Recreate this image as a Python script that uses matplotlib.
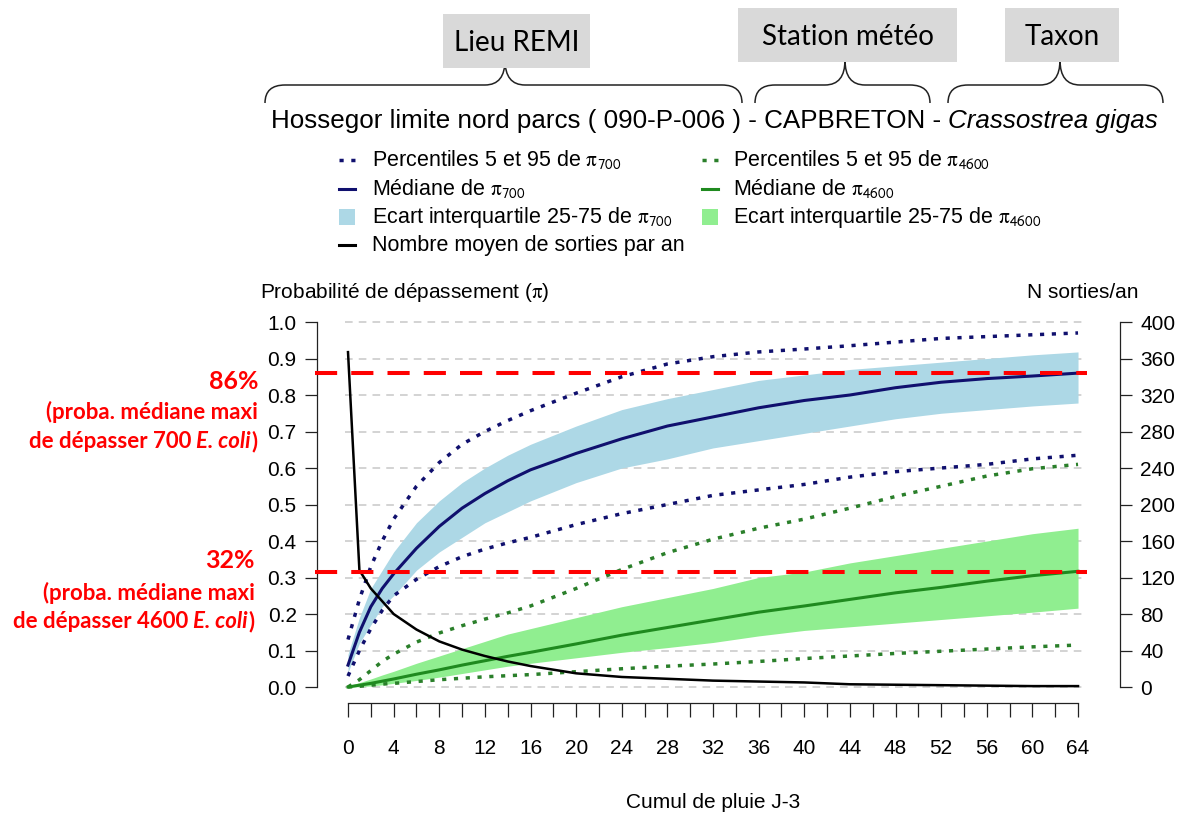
import numpy as np
import matplotlib.pyplot as plt
from matplotlib.path import Path
from matplotlib.patches import PathPatch, Rectangle

# cumul de pluie J-3
pluie = [0, 1, 2, 3, 4, 6, 8, 10, 12, 14, 16, 20, 24, 28, 32, 36, 40, 44, 48, 52, 56, 60, 64]

# probabilite de depasser 700 E. coli
p700_q05 = [0.03, 0.10, 0.16, 0.21, 0.25, 0.295, 0.33, 0.357, 0.378, 0.395, 0.41, 0.445, 0.475,
            0.50, 0.525, 0.54, 0.555, 0.575, 0.59, 0.60, 0.61, 0.625, 0.635]
p700_q25 = [0.04, 0.12, 0.17, 0.22, 0.25, 0.32, 0.37, 0.41, 0.45, 0.48, 0.51, 0.56, 0.60,
            0.625, 0.655, 0.675, 0.695, 0.715, 0.735, 0.75, 0.76, 0.77, 0.778]
p700_med = [0.06, 0.15, 0.22, 0.27, 0.31, 0.38, 0.44, 0.49, 0.53, 0.565, 0.595, 0.64, 0.68,
            0.715, 0.74, 0.765, 0.785, 0.80, 0.82, 0.835, 0.845, 0.852, 0.86]
p700_q75 = [0.09, 0.19, 0.27, 0.32, 0.37, 0.45, 0.51, 0.56, 0.60, 0.635, 0.665, 0.715, 0.76,
            0.79, 0.815, 0.84, 0.855, 0.87, 0.88, 0.89, 0.90, 0.91, 0.918]
p700_q95 = [0.13, 0.24, 0.33, 0.40, 0.46, 0.55, 0.615, 0.665, 0.70, 0.73, 0.757, 0.805, 0.85,
            0.885, 0.905, 0.918, 0.926, 0.935, 0.945, 0.955, 0.96, 0.965, 0.97]

# probabilite de depasser 4600 E. coli
p4600_q05 = [0.0, 0.002, 0.005, 0.008, 0.01, 0.015, 0.02, 0.024, 0.028, 0.031, 0.034, 0.042, 0.05,
             0.057, 0.063, 0.07, 0.078, 0.085, 0.092, 0.098, 0.104, 0.11, 0.115]
p4600_q25 = [0.0, 0.001, 0.003, 0.006, 0.01, 0.018, 0.027, 0.037, 0.047, 0.057, 0.065, 0.08, 0.095,
             0.108, 0.122, 0.14, 0.155, 0.165, 0.175, 0.185, 0.195, 0.205, 0.216]
p4600_med = [0.0, 0.005, 0.01, 0.016, 0.022, 0.035, 0.047, 0.06, 0.072, 0.084, 0.095, 0.118, 0.142,
             0.163, 0.184, 0.205, 0.222, 0.24, 0.258, 0.273, 0.29, 0.305, 0.317]
p4600_q75 = [0.003, 0.012, 0.022, 0.033, 0.043, 0.065, 0.085, 0.105, 0.125, 0.145, 0.16, 0.19, 0.22,
             0.245, 0.27, 0.30, 0.315, 0.34, 0.36, 0.38, 0.40, 0.42, 0.435]
p4600_q95 = [0.0, 0.02, 0.045, 0.07, 0.09, 0.123, 0.148, 0.168, 0.186, 0.203, 0.222, 0.27, 0.322,
             0.368, 0.405, 0.435, 0.46, 0.49, 0.522, 0.55, 0.578, 0.598, 0.61]

# nombre moyen de sorties par an
sorties = [367, 128, 108, 94, 80, 63, 50, 41, 34, 28, 23, 15, 11, 9, 7, 6, 5, 3, 2.5, 2, 1.5, 1, 1]

# seuils (mediane maxi)
seuil_700 = 0.86
seuil_4600 = 0.315

plt.rcParams['font.family'] = ['Liberation Sans', 'DejaVu Sans']
plt.rcParams['mathtext.fontset'] = 'stix'

fig = plt.figure(figsize=(11.8, 8.23), dpi=100)

# fond en pixels pour les textes autour du graphique
bg = fig.add_axes([0, 0, 1, 1])
bg.set_xlim(0, 1180)
bg.set_ylim(823, 0)
bg.axis('off')

ax = fig.add_axes([317 / 1180, 1 - 703 / 823, (1120 - 317) / 1180, (703 - 315) / 823])
ax.set_xlim(-2.718, 67.68)
ax.set_ylim(-0.0438, 1.0192)

navy = '#10106e'
vert = '#1f8a1f'
vert_f = '#2a7f2a'

# grille
yt = np.arange(0, 1.01, 0.1)
ax.hlines(yt, -0.3, 64.8, colors='#c8c8c8', linestyles=(0, (5, 4)), lw=1.1, zorder=0.5)

ax.fill_between(pluie, p700_q25, p700_q75, color='#add8e6', lw=0, zorder=1)
ax.fill_between(pluie, p4600_q25, p4600_q75, color='#90ee90', lw=0, zorder=1)

dots = (0, (1.2, 2.2))
ax.plot(pluie, p700_q05, color=navy, lw=2.5, ls=dots, zorder=2)
ax.plot(pluie, p700_q95, color=navy, lw=2.5, ls=dots, zorder=2)
ax.plot(pluie, p4600_q05, color=vert_f, lw=2.5, ls=dots, zorder=2)
ax.plot(pluie, p4600_q95, color=vert_f, lw=2.5, ls=dots, zorder=2)
ax.plot(pluie, p700_med, color=navy, lw=2.2, zorder=3)
ax.plot(pluie, p4600_med, color=vert, lw=2.2, zorder=3)

for s in ['top', 'right']:
    ax.spines[s].set_visible(False)
ax.spines['left'].set_bounds(0, 1)
ax.spines['bottom'].set_bounds(0, 64)
for s in ['left', 'bottom']:
    ax.spines[s].set_linewidth(0.9)
    ax.spines[s].set_color('#222222')

xt = np.arange(0, 65, 2)
ax.set_xticks(xt)
ax.set_xticklabels([str(v) if v % 4 == 0 else '' for v in xt])
ax.set_yticks(yt)
ax.set_yticklabels(['%.1f' % v for v in yt])
ax.tick_params(axis='x', length=10, width=0.9, pad=16, labelsize=15, color='#222222')
ax.tick_params(axis='y', length=8.6, width=0.9, pad=6, labelsize=15, color='#222222')

# axe de droite : nombre de sorties
ax2 = ax.twinx()
ax2.set_ylim(-0.0438 * 400, 1.0192 * 400)
for s in ['top', 'left', 'bottom']:
    ax2.spines[s].set_visible(False)
ax2.spines['right'].set_bounds(0, 400)
ax2.spines['right'].set_linewidth(0.9)
ax2.spines['right'].set_color('#222222')
ax2.set_yticks(np.arange(0, 401, 40))
ax2.tick_params(axis='y', length=8.6, width=0.9, pad=6, labelsize=15, color='#222222')
ax2.plot(pluie, sorties, color='black', lw=1.8, zorder=4)

# seuils en rouge
for v in [seuil_700, seuil_4600]:
    ax2.plot([-2.9, 64.8], [v, v], transform=ax.transData, color='#ff0000', lw=2.9,
             ls=(0, (5.5, 3.5)), clip_on=False, zorder=5)

# titres d'axes
bg.text(260, 293, 'Probabilité de dépassement ($\\mathrm{\\pi}$)', fontsize=15, ha='left', va='center')
bg.text(1083, 293, 'N sorties/an', fontsize=15, ha='center', va='center')
bg.text(713, 803, 'Cumul de pluie J-3', fontsize=15, ha='center', va='center')

renderer = fig.canvas.get_renderer()


def ligne(pieces, x, y, ha='left'):
    ts = []
    for txt, props, gap in pieces:
        ts.append((bg.text(0, y, txt, ha='left', va='baseline', **props), gap))
    ws = [t.get_window_extent(renderer).width + g for t, g in ts]
    x0 = x - sum(ws) if ha == 'right' else x
    for (t, g), w in zip(ts, ws):
        t.set_x(x0)
        x0 += w


# titre
ligne([('Hossegor limite nord parcs ( 090-P-006 ) - CAPBRETON -', dict(fontsize=18.7), 7),
       ('Crassostrea gigas', dict(fontsize=18.7, style='italic'), 0)], 271, 128)


def accolade(x0, x1, xm, y_end=103, y_arm=85, y_tip=60, r=20):
    verts = [(x0, y_end), (x0, y_arm), (x0 + r, y_arm), (xm - r, y_arm), (xm, y_arm), (xm, y_tip),
             (xm, y_arm), (xm + r, y_arm), (x1 - r, y_arm), (x1, y_arm), (x1, y_end)]
    codes = [Path.MOVETO, Path.CURVE3, Path.CURVE3, Path.LINETO, Path.CURVE3, Path.CURVE3,
             Path.CURVE3, Path.CURVE3, Path.LINETO, Path.CURVE3, Path.CURVE3]
    bg.add_patch(PathPatch(Path(verts, codes), fill=False, lw=1.1, ec='#222222'))


accolade(265, 742, 505)
accolade(755, 930, 845)
accolade(948, 1163, 1060)

boites = [('Lieu REMI', 443, 14, 147, 54), ('Station météo', 738, 8, 219, 54), ('Taxon', 1005, 8, 114, 54)]
for txt, bx, by, bw, bh in boites:
    bg.add_patch(Rectangle((bx, by), bw, bh, color='#d9d9d9', lw=0))
    bg.text(bx + bw / 2, by + bh / 2 + 2, txt, fontsize=20, family='Lato', ha='center', va='center')

# legende
pi7 = '$\\mathrm{\\pi}_{\\mathsf{700}}$'
pi46 = '$\\mathrm{\\pi}_{\\mathsf{4600}}$'
leg_y = [160, 189, 217, 245]
col_x = [(339, 355, 372), (702, 718, 733)]
leg = [
    [('dots', navy, 'Percentiles 5 et 95 de ' + pi7),
     ('line', navy, 'Médiane de ' + pi7),
     ('box', '#add8e6', 'Ecart interquartile 25-75 de ' + pi7),
     ('line', 'black', 'Nombre moyen de sorties par an')],
    [('dots', vert_f, 'Percentiles 5 et 95 de ' + pi46),
     ('line', vert, 'Médiane de ' + pi46),
     ('box', '#90ee90', 'Ecart interquartile 25-75 de ' + pi46)],
]
for (xa, xb, xt_), items in zip(col_x, leg):
    for yy, (kind, c, lab) in zip(leg_y, items):
        if kind == 'dots':
            bg.plot([xa, xb], [yy, yy], color=c, lw=2.5, ls=dots)
        elif kind == 'line':
            bg.plot([xa, xb], [yy, yy], color=c, lw=2.2)
        else:
            bg.add_patch(Rectangle((xa, yy - 8), xb - xa, 16, color=c, lw=0))
        bg.text(xt_, yy + 6, lab, fontsize=15.5, ha='left', va='baseline')

# annotations rouges
rouge = dict(color='#ff0000', family='Lato', weight='bold')
for pct, seuil_txt, xr, yb in [('86%', '700', 258, (389, 419, 448)),
                               ('32%', '4600', 255, (568, 600, 628))]:
    bg.text(xr, yb[0], pct, fontsize=18, ha='right', va='baseline', **rouge)
    bg.text(xr, yb[1], '(proba. médiane maxi', fontsize=16, ha='right', va='baseline', **rouge)
    ligne([('de dépasser ' + seuil_txt, dict(fontsize=16, **rouge), 5),
           ('E. coli', dict(fontsize=16, style='italic', **rouge), 1),
           (')', dict(fontsize=16, **rouge), 0)], xr, yb[2], ha='right')

fig.savefig('out.png', dpi=100)
